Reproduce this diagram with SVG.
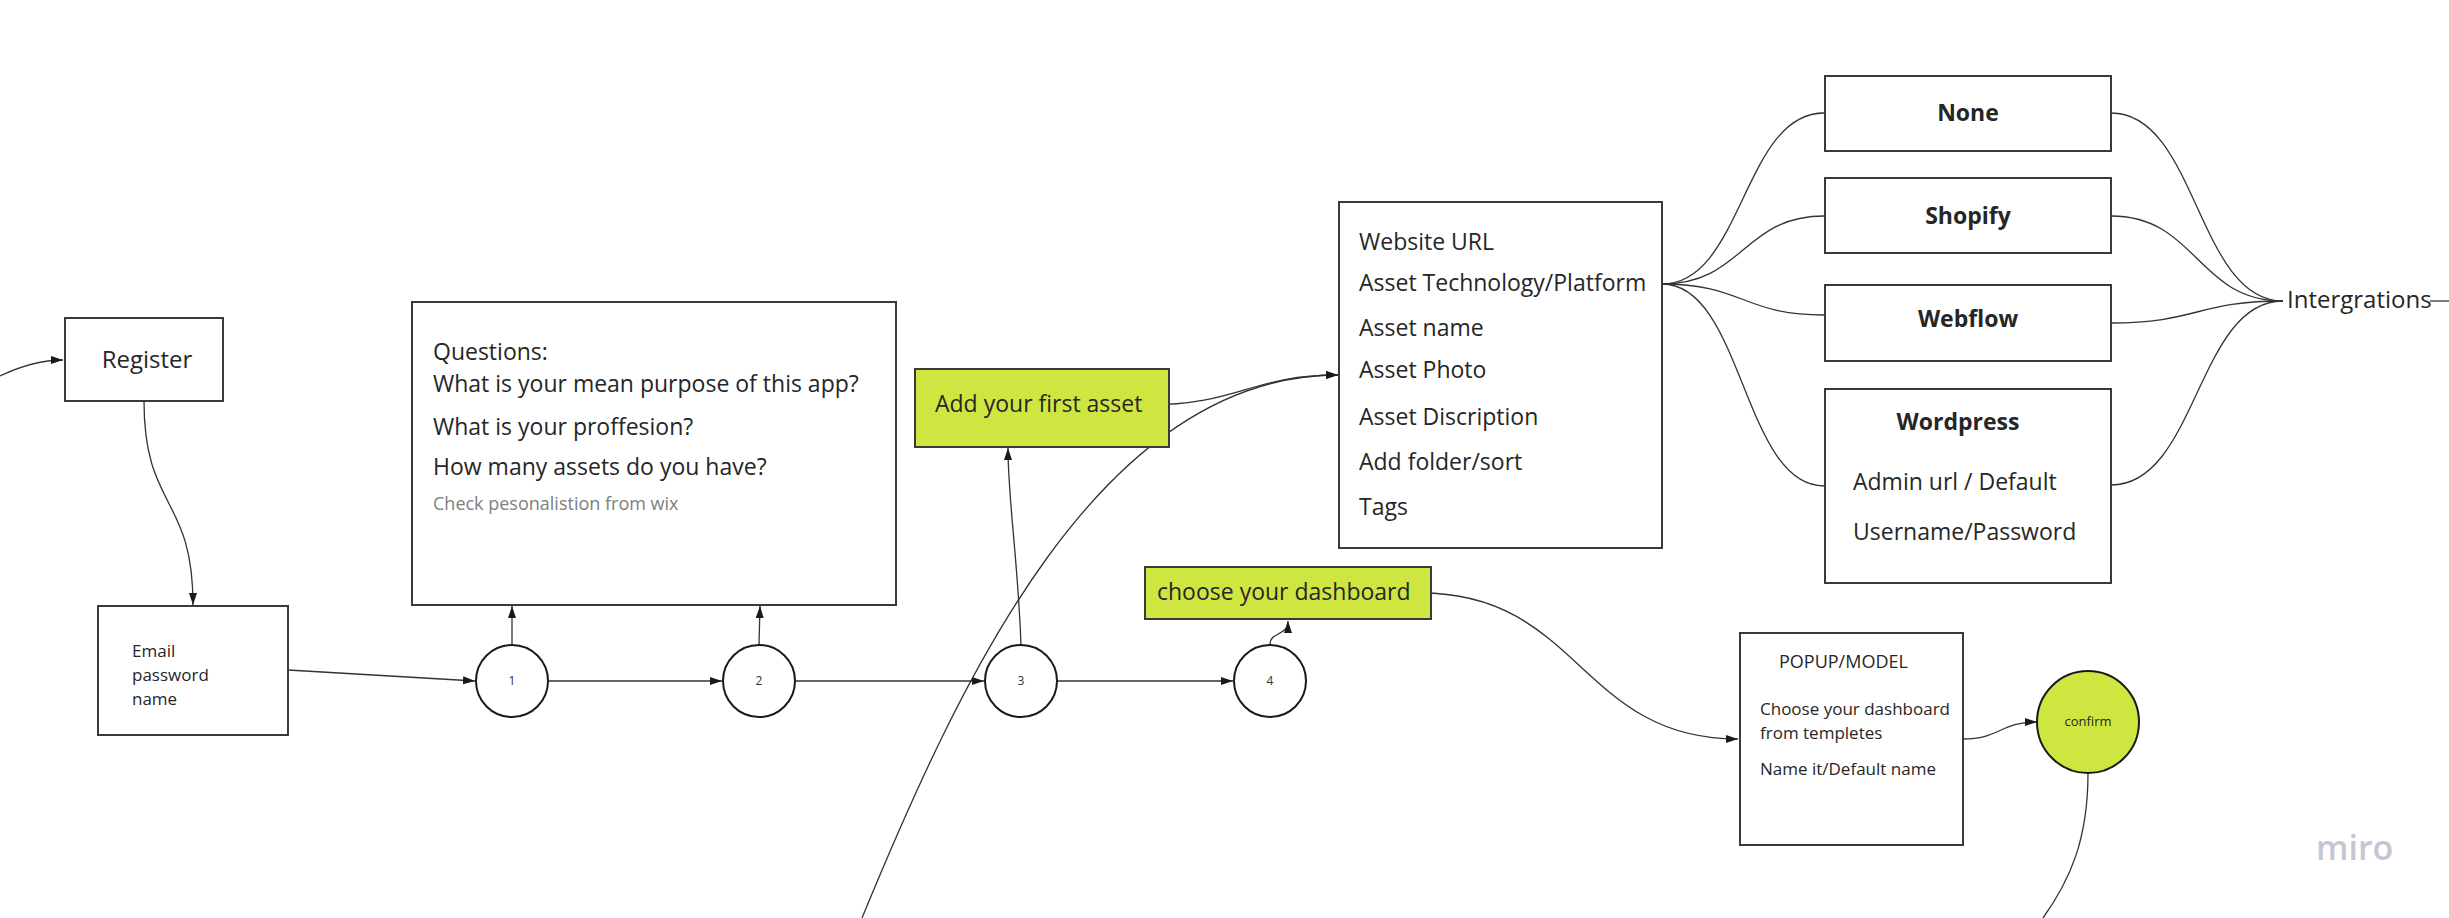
<svg xmlns="http://www.w3.org/2000/svg" width="2449" height="918" viewBox="0 0 2449 918">
<defs>
<marker id="arr" markerUnits="userSpaceOnUse" markerWidth="14" markerHeight="10" refX="12" refY="5" orient="auto">
<path d="M0,1 L12,5 L0,9 Z" fill="#1a1a1a"/>
</marker>
<style>
.box{fill:#ffffff;stroke:#3a3a3a;stroke-width:2}
.green{fill:#cfe640;stroke:#3a3a3a;stroke-width:2}
.circ{fill:#ffffff;stroke:#1a1a1a;stroke-width:2}
.con{fill:none;stroke:#333333;stroke-width:1.3}
.t{font-family:"Open Sans","Noto Sans","Liberation Sans",sans-serif;fill:#262626}
.b{font-weight:bold}
.num{font-family:"Open Sans","Liberation Sans",sans-serif;font-size:12px;fill:#333333;text-anchor:middle}
</style>
</defs>
<rect width="2449" height="918" fill="#ffffff"/>

<g id="connectors">
<path class="con" d="M0,376 C25,364 45,360 63,360" marker-end="url(#arr)"/>
<path class="con" d="M144,401 C144,510 193,495 193,605" marker-end="url(#arr)"/>
<path class="con" d="M288,670 L475,681" marker-end="url(#arr)"/>
<path class="con" d="M512,645 L512,606" marker-end="url(#arr)"/>
<path class="con" d="M549,681 L722,681" marker-end="url(#arr)"/>
<path class="con" d="M759,645 L760,606" marker-end="url(#arr)"/>
<path class="con" d="M796,681 L984,681" marker-end="url(#arr)"/>
<path class="con" d="M1021,645 C1018,560 1008,500 1008,448" marker-end="url(#arr)"/>
<path class="con" d="M1057,681 L1233,681" marker-end="url(#arr)"/>
<path class="con" d="M1270,644 C1270,632 1288,636 1288,621" marker-end="url(#arr)"/>
<path class="con" d="M1146,405 C1240,405 1250,375 1338,375" marker-end="url(#arr)"/>
<path class="con" d="M862,918 C960,680 1100,375 1338,375" marker-end="url(#arr)"/>
<path class="con" d="M1648,284 L1662,284"/>
<path class="con" d="M1662,284 C1743,284 1743,113 1824,113"/>
<path class="con" d="M1662,284 C1743,284 1743,216 1824,216"/>
<path class="con" d="M1662,284 C1743,284 1743,315 1824,315"/>
<path class="con" d="M1662,284 C1743,284 1743,486 1824,486"/>
<path class="con" d="M2111,113 C2197,113 2197,301 2283,301"/>
<path class="con" d="M2111,216 C2197,216 2197,301 2283,301"/>
<path class="con" d="M2111,323 C2197,323 2197,301 2283,301"/>
<path class="con" d="M2111,485 C2197,485 2197,301 2283,301"/>
<path class="con" d="M2430,301 L2449,301"/>
<path class="con" d="M1421,593 C1580,593 1580,739 1738,739" marker-end="url(#arr)"/>
<path class="con" d="M1963,739 C2000,739 2000,722 2037,722" marker-end="url(#arr)"/>
<path class="con" d="M2088,773 C2088,840 2070,880 2043,918"/>
</g>

<g id="register">
<rect class="box" x="65" y="318" width="158" height="83"/>
<text class="t" x="147" y="368" font-size="24" text-anchor="middle">Register</text>
</g>

<g id="email">
<rect class="box" x="98" y="606" width="190" height="129"/>
<text class="t" font-size="17"><tspan x="132" y="657">Email</tspan><tspan x="132" y="681">password</tspan><tspan x="132" y="705">name</tspan></text>
</g>

<g id="questions">
<rect class="box" x="412" y="302" width="484" height="303"/>
<text class="t" font-size="23"><tspan x="433" y="360">Questions:</tspan><tspan x="433" y="392">What is your mean purpose of this app?</tspan><tspan x="433" y="435">What is your proffesion?</tspan><tspan x="433" y="475">How many assets do you have?</tspan></text>
<text class="t" x="433" y="510" font-size="18" style="fill:#808080">Check pesonalistion from wix</text>
</g>

<g id="c1"><circle class="circ" cx="512" cy="681" r="36"/><text class="num" x="512" y="685">1</text></g>
<g id="c2"><circle class="circ" cx="759" cy="681" r="36"/><text class="num" x="759" y="685">2</text></g>
<g id="c3"><circle class="circ" cx="1021" cy="681" r="36"/><text class="num" x="1021" y="685">3</text></g>
<g id="c4"><circle class="circ" cx="1270" cy="681" r="36"/><text class="num" x="1270" y="685">4</text></g>

<g id="add-asset">
<rect class="green" x="915" y="369" width="254" height="78"/>
<text class="t" x="935" y="412" font-size="23">Add your first asset</text>
</g>

<g id="choose-dashboard">
<rect class="green" x="1145" y="567" width="286" height="52"/>
<text class="t" x="1157" y="600" font-size="23">choose your dashboard</text>
</g>

<g id="asset-form">
<rect class="box" x="1339" y="202" width="323" height="346"/>
<text class="t" font-size="23"><tspan x="1359" y="250">Website URL</tspan><tspan x="1359" y="291">Asset Technology/Platform</tspan><tspan x="1359" y="336">Asset name</tspan><tspan x="1359" y="378">Asset Photo</tspan><tspan x="1359" y="425">Asset Discription</tspan><tspan x="1359" y="470">Add folder/sort</tspan><tspan x="1359" y="515">Tags</tspan></text>
</g>

<g id="none">
<rect class="box" x="1825" y="76" width="286" height="75"/>
<text class="t b" x="1968" y="121" font-size="23" text-anchor="middle">None</text>
</g>
<g id="shopify">
<rect class="box" x="1825" y="178" width="286" height="75"/>
<text class="t b" x="1968" y="224" font-size="23" text-anchor="middle">Shopify</text>
</g>
<g id="webflow">
<rect class="box" x="1825" y="285" width="286" height="76"/>
<text class="t b" x="1968" y="327" font-size="23" text-anchor="middle">Webflow</text>
</g>
<g id="wordpress">
<rect class="box" x="1825" y="389" width="286" height="194"/>
<text class="t b" x="1958" y="430" font-size="23" text-anchor="middle">Wordpress</text>
<text class="t" font-size="23"><tspan x="1853" y="490">Admin url / Default</tspan><tspan x="1853" y="540">Username/Password</tspan></text>
</g>

<g id="intergrations">
<text class="t" x="2287" y="308" font-size="24">Intergrations</text>
</g>

<g id="popup">
<rect class="box" x="1740" y="633" width="223" height="212"/>
<text class="t" x="1779" y="668" font-size="18">POPUP/MODEL</text>
<text class="t" font-size="17"><tspan x="1760" y="715">Choose your dashboard</tspan><tspan x="1760" y="739">from templetes</tspan><tspan x="1760" y="775">Name it/Default name</tspan></text>
</g>

<g id="confirm">
<circle cx="2088" cy="722" r="51" fill="#cfe640" stroke="#1a1a1a" stroke-width="2"/>
<text class="t" x="2088" y="726" font-size="13" text-anchor="middle">confirm</text>
</g>

<text x="2316" y="860" font-family="'Open Sans','Liberation Sans',sans-serif" font-size="34" font-weight="600" fill="#c6c6d3">miro</text>
</svg>
